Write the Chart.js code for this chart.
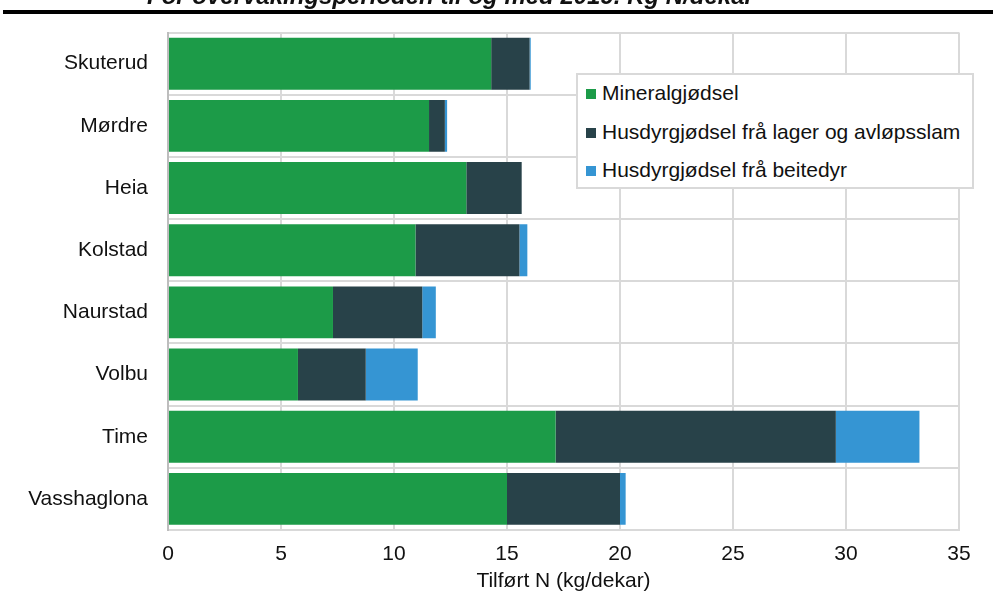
<!DOCTYPE html>
<html lang="no">
<head>
    <meta charset="UTF-8">
    <title>Tilført N</title>
    <script src="https://cdn.jsdelivr.net/npm/chart.js"></script>
    <style>
        body { margin: 0; background: #fff; font-family: "Liberation Sans", Arial, sans-serif; }
        #wrap { position: relative; width: 993px; height: 599px; overflow: hidden; }
        #topTitle {
            position: absolute; left: 147px; top: -16px; line-height: 24px;
            font-size: 24px; font-weight: bold; font-style: italic; color: #111; white-space: nowrap;
        }
        #topRule { position: absolute; left: 3px; right: 0; top: 10px; height: 4px; background: #000; }
        #legend {
            position: absolute; left: 576px; top: 73px; width: 394px; height: 112px;
            background: #fff; border: 2px solid #d9d9d9; box-sizing: content-box;
        }
        #legend div { position: absolute; left: 8px; font-size: 21px; color: #111; white-space: nowrap; line-height: 24px; }
        #legend span { display: inline-block; width: 10px; height: 10px; margin-right: 6px; vertical-align: 1px; }
    </style>
</head>
<body>
<div id="wrap">
    <div id="topTitle">For overvåkingsperioden til og med 2019. Kg N/dekar</div>
    <div id="topRule"></div>
    <canvas id="chart" width="993" height="599"></canvas>
    <div id="legend"></div>
</div>
<script>
    // data (kg N per dekar)
    const categories = ['Skuterud', 'Mørdre', 'Heia', 'Kolstad', 'Naurstad', 'Volbu', 'Time', 'Vasshaglona'];
    const mineral = [14.3, 11.55, 13.2, 10.95, 7.3, 5.75, 17.15, 15.0];
    const lager = [1.7, 0.7, 2.45, 4.6, 3.95, 3.0, 12.4, 5.0];
    const beite = [0.05, 0.1, 0, 0.35, 0.6, 2.3, 3.7, 0.25];
    const seriesNames = ['Mineralgjødsel', 'Husdyrgjødsel frå lager og avløpsslam', 'Husdyrgjødsel frå beitedyr'];
    const seriesColors = ['#1c9b48', '#284249', '#3595d3'];
    const xTicks = [0, 5, 10, 15, 20, 25, 30, 35];

    const font = { family: '"Liberation Sans", Arial, sans-serif', size: 21 };

    const chart = new Chart(document.getElementById('chart'), {
        type: 'bar',
        data: {
            labels: categories,
            datasets: [mineral, lager, beite].map((d, i) => ({
                label: seriesNames[i],
                data: d,
                backgroundColor: seriesColors[i],
                barPercentage: 0.835,
                categoryPercentage: 1
            }))
        },
        options: {
            indexAxis: 'y',
            responsive: false,
            animation: false,
            layout: { padding: { top: 32, right: 34, left: 0, bottom: 0 } },
            plugins: { legend: { display: false }, tooltip: { enabled: false } },
            scales: {
                x: {
                    stacked: true,
                    min: 0, max: 35,
                    afterBuildTicks: s => { s.ticks = xTicks.map(v => ({ value: v })); },
                    afterFit: s => { s.height = 69; },
                    grid: { color: '#d9d9d9', lineWidth: 2, drawTicks: false },
                    border: { color: '#d9d9d9', width: 2 },
                    ticks: { color: '#111', font: font, padding: 12 },
                    title: { display: true, text: 'Tilført N (kg/dekar)', color: '#111', font: font, padding: { top: 4, bottom: 5 } }
                },
                y: {
                    stacked: true,
                    afterFit: s => { s.width = 168; },
                    grid: { color: '#d9d9d9', lineWidth: 2, drawTicks: false },
                    border: { color: '#bdbdbd', width: 2 },
                    ticks: { color: '#111', font: font, padding: 20 }
                }
            }
        }
    });

    // legend box drawn over the plot, same place as in the original
    const legendEl = document.getElementById('legend');
    chart.data.datasets.forEach((ds, i) => {
        const row = document.createElement('div');
        row.style.top = (6 + i * 38.5) + 'px';
        row.innerHTML = '<span style="background:' + ds.backgroundColor + '"></span>' + ds.label;
        legendEl.appendChild(row);
    });
</script>
</body>
</html>
